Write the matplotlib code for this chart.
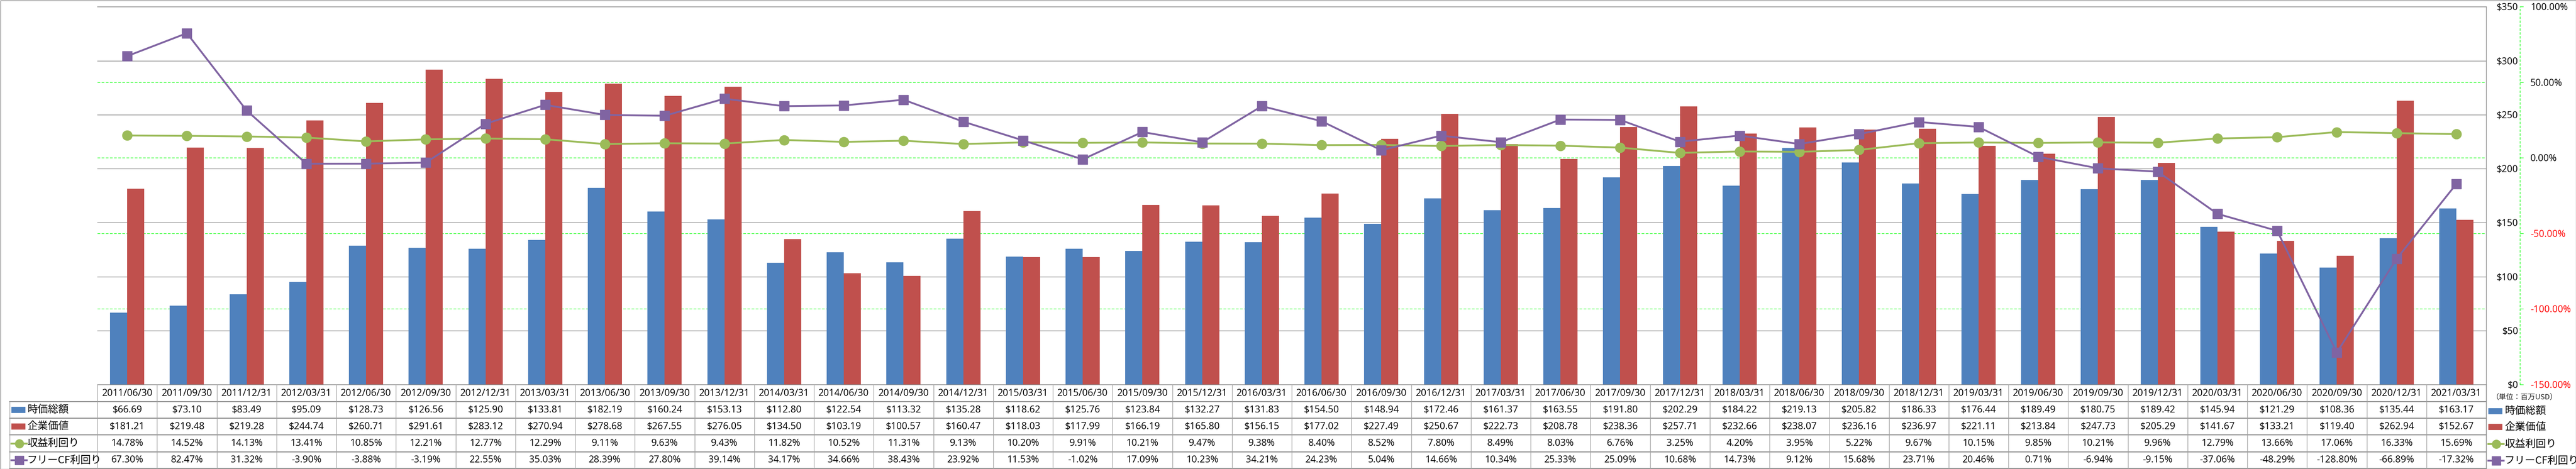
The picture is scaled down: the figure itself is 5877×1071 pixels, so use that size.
import matplotlib
matplotlib.use('Agg')
import matplotlib.pyplot as plt
from matplotlib.transforms import blended_transform_factory
from matplotlib.lines import Line2D
from matplotlib.patches import Rectangle
from matplotlib.ticker import FuncFormatter, FixedLocator
import numpy as np

# ---------------- data ----------------
categories = ['2011/06/30', '2011/09/30', '2011/12/31', '2012/03/31', '2012/06/30', '2012/09/30',
              '2012/12/31', '2013/03/31', '2013/06/30', '2013/09/30', '2013/12/31', '2014/03/31',
              '2014/06/30', '2014/09/30', '2014/12/31', '2015/03/31', '2015/06/30', '2015/09/30',
              '2015/12/31', '2016/03/31', '2016/06/30', '2016/09/30', '2016/12/31', '2017/03/31',
              '2017/06/30', '2017/09/30', '2017/12/31', '2018/03/31', '2018/06/30', '2018/09/30',
              '2018/12/31', '2019/03/31', '2019/06/30', '2019/09/30', '2019/12/31', '2020/03/31',
              '2020/06/30', '2020/09/30', '2020/12/31', '2021/03/31']
market_cap = [66.69, 73.10, 83.49, 95.09, 128.73, 126.56, 125.90, 133.81, 182.19, 160.24,
              153.13, 112.80, 122.54, 113.32, 135.28, 118.62, 125.76, 123.84, 132.27, 131.83,
              154.50, 148.94, 172.46, 161.37, 163.55, 191.80, 202.29, 184.22, 219.13, 205.82,
              186.33, 176.44, 189.49, 180.75, 189.42, 145.94, 121.29, 108.36, 135.44, 163.17]
enterprise_value = [181.21, 219.48, 219.28, 244.74, 260.71, 291.61, 283.12, 270.94, 278.68, 267.55,
                    276.05, 134.50, 103.19, 100.57, 160.47, 118.03, 117.99, 166.19, 165.80, 156.15,
                    177.02, 227.49, 250.67, 222.73, 208.78, 238.36, 257.71, 232.66, 238.07, 236.16,
                    236.97, 221.11, 213.84, 247.73, 205.29, 141.67, 133.21, 119.40, 262.94, 152.67]
earnings_yield = [14.78, 14.52, 14.13, 13.41, 10.85, 12.21, 12.77, 12.29, 9.11, 9.63,
                  9.43, 11.82, 10.52, 11.31, 9.13, 10.20, 9.91, 10.21, 9.47, 9.38,
                  8.40, 8.52, 7.80, 8.49, 8.03, 6.76, 3.25, 4.20, 3.95, 5.22,
                  9.67, 10.15, 9.85, 10.21, 9.96, 12.79, 13.66, 17.06, 16.33, 15.69]
fcf_yield = [67.30, 82.47, 31.32, -3.90, -3.88, -3.19, 22.55, 35.03, 28.39, 27.80,
             39.14, 34.17, 34.66, 38.43, 23.92, 11.53, -1.02, 17.09, 10.23, 34.21,
             24.23, 5.04, 14.66, 10.34, 25.33, 25.09, 10.68, 14.73, 9.12, 15.68,
             23.71, 20.46, 0.71, -6.94, -9.15, -37.06, -48.29, -128.80, -66.89, -17.32]
series_names = ['時価総額', '企業価値', '収益利回り', 'フリーCF利回り']
unit_label = '（単位：百万USD）'
left_ticks = [0, 50, 100, 150, 200, 250, 300, 350]
right_ticks = [-150, -100, -50, 0, 50, 100]

# ---------------- style ----------------
BLUE = '#4F81BD'
RED = '#C0504D'
GREEN = '#9BBB59'
PURPLE = '#8064A2'
GRID = '#868686'
LIME = '#00FF00'
NUMFONT = ['Open Sans', 'DejaVu Sans']
JPFONT = ['Noto Sans CJK JP', 'DejaVu Sans']

W, H = 5877, 1071
DPI = 100
fig = plt.figure(figsize=(W / DPI, H / DPI), dpi=DPI)
fig.patch.set_facecolor('white')


def fx(px):
    return px / W


def fy(py):
    return 1 - py / H


PT = 72.0 / DPI  # points per pixel

L, R, T, B = 222, 5672, 15.3, 878
ax = fig.add_axes([fx(L), fy(B), fx(R) - fx(L), fy(T) - fy(B)])
ax2 = ax.twinx()

n = len(categories)
x = np.arange(n)
bw = 39.0 / 136.25
ax.bar(x - bw / 2, market_cap, bw, color=BLUE, zorder=2, linewidth=0)
ax.bar(x + bw / 2, enterprise_value, bw, color=RED, zorder=2, linewidth=0)
ax.set_xlim(-0.5, n - 0.5)
ax.set_ylim(0, 350)
ax.yaxis.set_major_locator(FixedLocator(left_ticks))
ax.yaxis.set_major_formatter(FuncFormatter(lambda v, p: f'${v:.0f}'))
ax.yaxis.grid(True, color=GRID, lw=1.0)
ax.set_axisbelow(True)
ax.set_xticks([])
ax.tick_params(axis='y', left=False, right=False, labelleft=False, labelright=True,
               length=0, pad=73 * PT, labelsize=15.5)
for lbl in ax.get_yticklabels():
    lbl.set_ha('right')
    lbl.set_family(NUMFONT)
ax.spines['left'].set_visible(False)
for s in ['top', 'right', 'bottom']:
    ax.spines[s].set_color(GRID)
    ax.spines[s].set_linewidth(1.0)

# secondary axis
ax2.set_ylim(-150, 100)
ax2.yaxis.set_major_locator(FixedLocator(right_ticks))
ax2.yaxis.set_major_formatter(FuncFormatter(lambda v, p: f'{v:.2f}%'))
for s in ['left', 'top', 'bottom']:
    ax2.spines[s].set_visible(False)
ax2.spines['right'].set_position(('outward', 77 * PT))
ax2.spines['right'].set_color(LIME)
ax2.spines['right'].set_linestyle((0, (4, 4)))
ax2.spines['right'].set_linewidth(0.8)
ax2.tick_params(axis='y', right=True, length=8 * PT, width=0.8, color=LIME,
                pad=16 * PT, labelsize=15.5)
for v, lbl in zip(right_ticks, ax2.get_yticklabels()):
    lbl.set_family(NUMFONT)
    lbl.set_color('red' if v < 0 else 'black')

# green dashed gridlines for secondary axis, drawn behind the bars
gtrans = blended_transform_factory(ax.transAxes, ax2.transData)
for v in right_ticks[1:-1]:
    ax.add_line(Line2D([0, 1], [v, v], transform=gtrans, color=LIME, lw=0.8,
                       ls=(0, (5.5, 3)), zorder=1))

ax2.plot(x, earnings_yield, color=GREEN, lw=3.0, marker='o', ms=16, zorder=3,
         solid_capstyle='round')
ax2.plot(x, fcf_yield, color=PURPLE, lw=3.0, marker='s', ms=16, zorder=4,
         solid_joinstyle='round')

# ---------------- data table ----------------
tt = blended_transform_factory(ax.transData, fig.transFigure)
row_lines = [917, 955, 993, 1032, 1070]
header_c = 898
row_c = [936, 974, 1012.5, 1051]
TBL = '#8C8C8C'

for yy in row_lines:
    fig.add_artist(Line2D([fx(22), fx(R)], [fy(yy), fy(yy)], transform=fig.transFigure,
                          color=TBL, lw=1.6))
for k in range(n + 1):
    fig.add_artist(Line2D([k - 0.5, k - 0.5], [fy(B), fy(1070)], transform=tt,
                          color='#A0A0A0', lw=1.0))
fig.add_artist(Line2D([fx(22), fx(22)], [fy(917), fy(1070)], transform=fig.transFigure,
                      color='#A0A0A0', lw=1.0))
fig.add_artist(Line2D([n - 0.5, n - 0.5], [fy(B), fy(H)], transform=tt,
                      color=GRID, lw=1.0))

rows = [
    [f'${v:.2f}' for v in market_cap],
    [f'${v:.2f}' for v in enterprise_value],
    [f'{v:.2f}%' for v in earnings_yield],
    [f'{v:.2f}%' for v in fcf_yield],
]
for i, c in enumerate(categories):
    fig.text(x[i], fy(header_c), c, transform=tt, ha='center', va='center',
             fontsize=15.7, family=NUMFONT)
    for r in range(4):
        fig.text(x[i], fy(row_c[r]), rows[r][i], transform=tt, ha='center', va='center',
                 fontsize=15.7, family=NUMFONT)


def legend_key(x0, yc, kind):
    if kind == 0 or kind == 1:
        col = BLUE if kind == 0 else RED
        fig.add_artist(Rectangle((fx(x0), fy(yc + 7)), fx(32), 14 / H,
                                 transform=fig.transFigure, color=col, lw=0))
    else:
        col = GREEN if kind == 2 else PURPLE
        mk = 'o' if kind == 2 else 's'
        fig.add_artist(Line2D([fx(x0), fx(x0 + 35)], [fy(yc), fy(yc)],
                              transform=fig.transFigure, color=col, lw=3.0))
        fig.add_artist(Line2D([fx(x0 + 17.5)], [fy(yc)], transform=fig.transFigure,
                              color=col, marker=mk, ms=14, lw=0))


for r in range(4):
    legend_key(26, row_c[r], r)
    fig.text(fx(62), fy(row_c[r]), series_names[r], ha='left', va='center',
             fontsize=17, family=JPFONT)

# right legend
fig.text(fx(5684), fy(907), unit_label, ha='left', va='center', fontsize=12,
         family=JPFONT, color='#222222')
leg_c = [939, 975, 1014, 1052]
for r in range(4):
    legend_key(5677, leg_c[r], r)
    fig.text(fx(5714), fy(leg_c[r]), series_names[r], ha='left', va='center',
             fontsize=17, family=JPFONT)

# outer border
fig.add_artist(Rectangle((0.5 / W, 0.5 / H), 1 - 1.0 / W, 1 - 1.0 / H, transform=fig.transFigure,
                         fill=False, edgecolor=GRID, lw=1.0))

fig.savefig('out.png', dpi=DPI, facecolor='white')
